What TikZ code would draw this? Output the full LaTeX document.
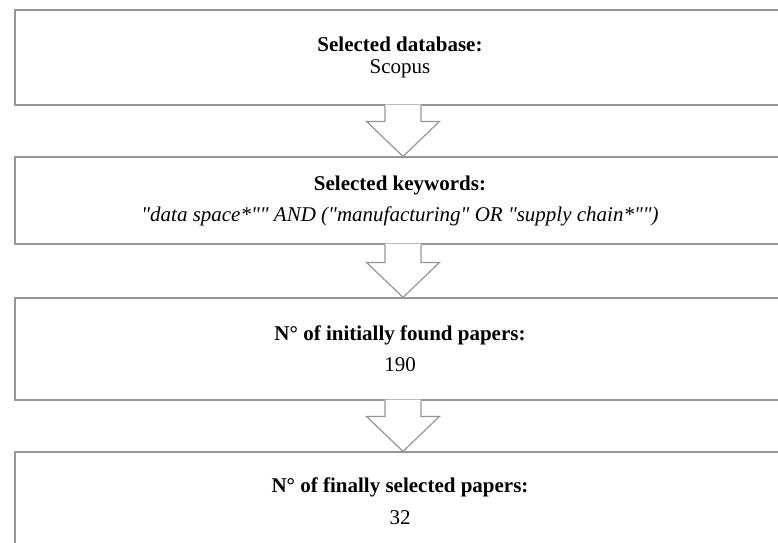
\documentclass[tikz,border=0pt]{standalone}
\usepackage{fontspec}
\setmainfont{Liberation Serif}[Ligatures=TeXOff]
\usetikzlibrary{calc}
\definecolor{boxgray}{RGB}{150,150,150}
\tikzset{
  stagebox/.style={draw=boxgray, line width=1.2pt, fill=white, rectangle,
    minimum width=770pt, inner sep=0pt, align=center,
    font=\fontsize{21}{22}\selectfont},
  blockarrow/.style={draw=boxgray, line width=1.2pt, line join=miter},
}
% Hollow block arrow from the bottom of box #1 to the top of box #2
\newcommand\stagearrow[2]{%
  \fill[white]
    ($(#1.south)+(-15,-1)$) -- ($(#2.north)+(-15,-35)$) --
    ($(#2.north)+(-33.5,-35)$) -- ($(#2.north)+(3,0)$) --
    ($(#2.north)+(39.5,-35)$) -- ($(#2.north)+(21,-35)$) --
    ($(#1.south)+(21,-1)$) -- cycle;
  \draw[blockarrow]
    ($(#1.south)+(-15,0)$) -- ($(#2.north)+(-15,-35)$) --
    ($(#2.north)+(-33.5,-35)$) -- ($(#2.north)+(3,0)$) --
    ($(#2.north)+(39.5,-35)$) -- ($(#2.north)+(21,-35)$) --
    ($(#1.south)+(21,0)$);
}
\begin{document}
\begin{tikzpicture}[x=1pt,y=-1pt]
\useasboundingbox (0,0) rectangle (778,542);
\clip (0,0) rectangle (778,542);

\node[stagebox, minimum height=95pt] (db) at (400,57.5)
  {\textbf{Selected database:}\\Scopus};
\node[stagebox, minimum height=87pt] (kw) at (400,200.5)
  {\textbf{Selected keywords:}\\[9pt]\textit{"data space*"" AND ("manufacturing" OR "supply chain*"")}};
\node[stagebox, minimum height=102pt] (found) at (400,349)
  {\textbf{N° of initially found papers:}\\[9pt]190};
\node[stagebox, minimum height=99pt] (final) at (400,501.5)
  {\textbf{N° of finally selected papers:}\\[10pt]32};

\stagearrow{db}{kw}
\stagearrow{kw}{found}
\stagearrow{found}{final}
\end{tikzpicture}
\end{document}
